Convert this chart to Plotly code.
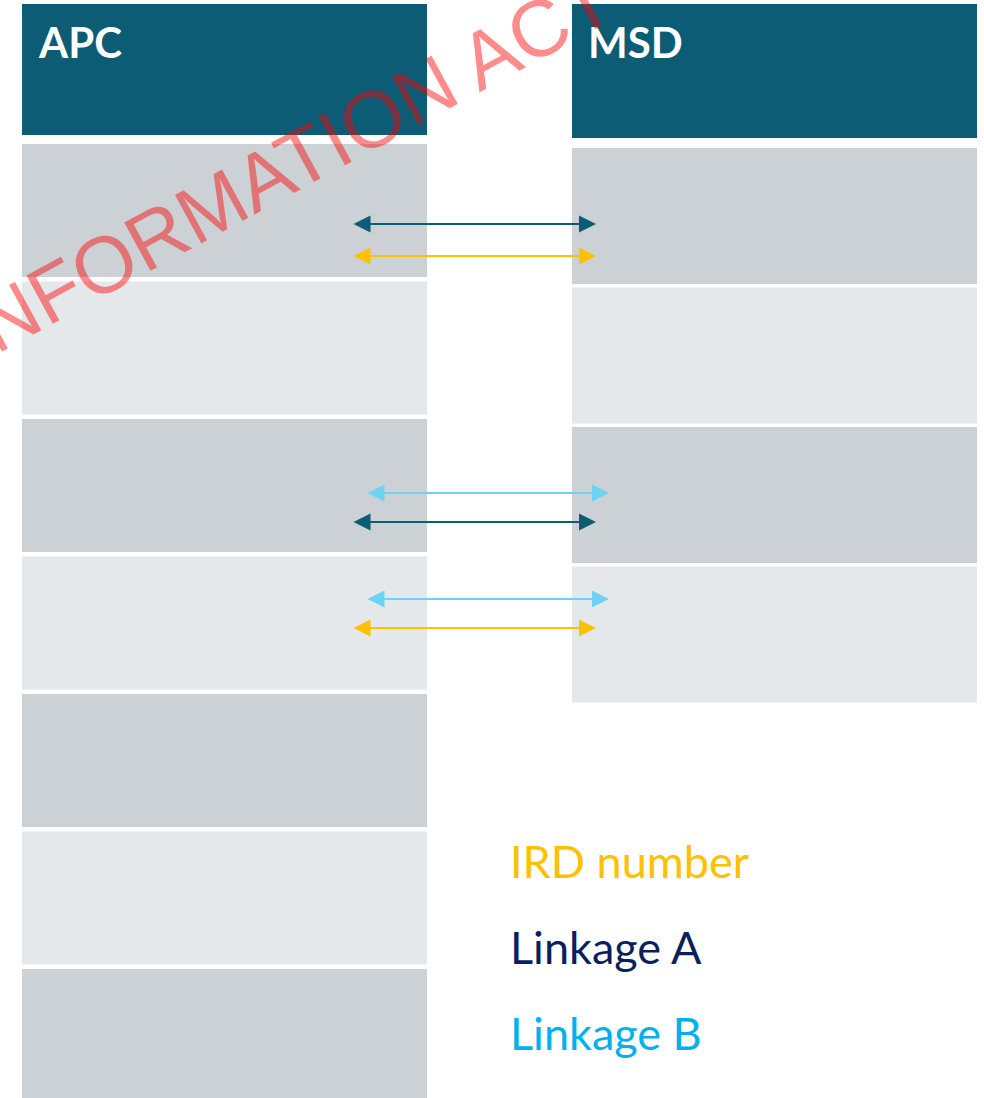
import plotly.graph_objects as go

# ---------------- data ----------------
columns = ["APC", "MSD"]
apc_row_count = 7
msd_row_count = 4
legend_items = ["IRD number", "Linkage A", "Linkage B"]

# links between rows (0-based row index, same row in both columns)
link_rows = [0, 0, 2, 2, 3, 3]
link_kinds = ["Linkage A", "IRD number", "Linkage B", "Linkage A", "Linkage B", "IRD number"]
watermark_text = "INFORMATION ACT"

# ---------------- styles / geometry ----------------
W, H = 984, 1098
HEADER = "#0B5C74"
ROW_DARK = "#CBD1D5"
ROW_LIGHT = "#E4E8EB"
arrow_color = {"IRD number": "#FFC000", "Linkage A": "#0B5C74", "Linkage B": "#6DD3F5"}
legend_color = {"IRD number": "#FFC000", "Linkage A": "#0B1F5C", "Linkage B": "#00B0F0"}

col_x = {"APC": (22, 427), "MSD": (572, 977)}
header_y = {"APC": (4, 135), "MSD": (4, 138)}
row_top0 = {"APC": 144, "MSD": 148}
row_pitch = {"APC": 137.5, "MSD": 139.5}
row_h = {"APC": 133, "MSD": 136}
row_counts = {"APC": apc_row_count, "MSD": msd_row_count}
link_y = [224, 256, 493, 522, 599, 628]
arrow_x = {"IRD number": (352, 596), "Linkage A": (352, 596), "Linkage B": (366, 609)}
legend_y0, legend_dy = 861, 86

shapes = []
annotations = []
for c in columns:
    x0, x1 = col_x[c]
    y0, y1 = header_y[c]
    shapes.append(dict(type="rect", xref="x", yref="y", x0=x0, x1=x1, y0=y0, y1=y1,
                       fillcolor=HEADER, line=dict(width=0), layer="below"))
    annotations.append(dict(x=x0 + 14, y=(y0 + 38), xref="x", yref="y", text="<b>%s</b>" % c,
                            showarrow=False, xanchor="left", yanchor="middle",
                            font=dict(family="Lato", size=42, color="white")))
    for i in range(row_counts[c]):
        top = row_top0[c] + i * row_pitch[c]
        bottom = top + row_h[c]
        if i == row_counts[c] - 1 and c == "APC":
            bottom = H + 20
        shapes.append(dict(type="rect", xref="x", yref="y", x0=x0, x1=x1, y0=top, y1=bottom,
                           fillcolor=ROW_DARK if i % 2 == 0 else ROW_LIGHT,
                           line=dict(width=0), layer="below"))

for r, k, yy in zip(link_rows, link_kinds, link_y):
    xl, xr = arrow_x[k]
    annotations.append(dict(x=xr, y=yy, ax=xl, ay=yy, xref="x", yref="y", axref="x", ayref="y",
                            text="", showarrow=True, arrowhead=2, startarrowhead=2,
                            arrowside="end+start", arrowsize=1.7, startarrowsize=1.7,
                            arrowwidth=2, arrowcolor=arrow_color[k], standoff=0, startstandoff=0))

for i, item in enumerate(legend_items):
    annotations.append(dict(x=508, y=legend_y0 + i * legend_dy, xref="x", yref="y", text=item,
                            showarrow=False, xanchor="left", yanchor="middle",
                            font=dict(family="Lato", size=45, color=legend_color[item])))

annotations.append(dict(x=285, y=166, xref="x", yref="y", text=watermark_text, showarrow=False,
                        textangle=-28.5, xanchor="center", yanchor="middle",
                        font=dict(family="Liberation Sans", size=80, color="rgba(255,0,0,0.45)")))

fig = go.Figure()
fig.add_trace(go.Scatter(x=[0, W], y=[0, H], mode="markers",
                         marker=dict(opacity=0), hoverinfo="skip", showlegend=False))
fig.update_layout(width=W, height=H,
                  margin=dict(l=0, r=0, t=0, b=0),
                  plot_bgcolor="white", paper_bgcolor="white",
                  xaxis=dict(range=[0, W], visible=False, fixedrange=True),
                  yaxis=dict(range=[H, 0], visible=False, fixedrange=True),
                  shapes=shapes, annotations=annotations, showlegend=False)
fig.write_html("out.html", config={"displayModeBar": False},
               post_script="document.body.style.margin='0';document.body.style.overflow='hidden';")
